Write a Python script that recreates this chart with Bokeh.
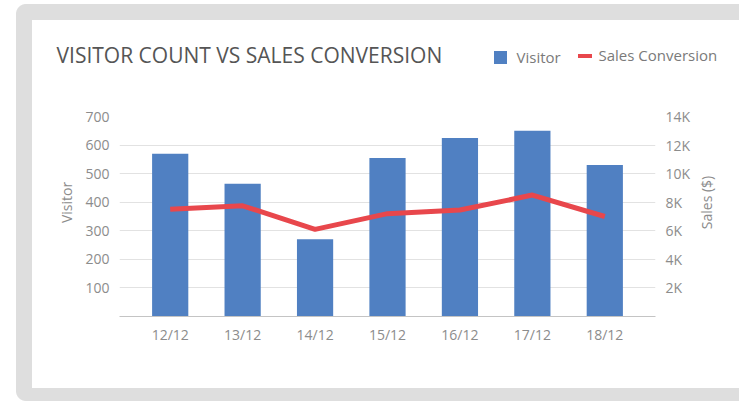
import math
from bokeh.plotting import figure
from bokeh.models import (Range1d, LinearAxis, FixedTicker, Label)
from bokeh.embed import file_html
from bokeh.resources import INLINE

# ---- data ----
dates = ["12/12", "13/12", "14/12", "15/12", "16/12", "17/12", "18/12"]
visitors = [570, 465, 270, 555, 625, 650, 530]
sales = [7500, 7750, 6100, 7200, 7450, 8500, 7000]
visitor_ticks = [100, 200, 300, 400, 500, 600, 700]
sales_ticks = [2000, 4000, 6000, 8000, 10000, 12000, 14000]
sales_tick_labels = ["2K", "4K", "6K", "8K", "10K", "12K", "14K"]

title_text = "VISITOR COUNT VS SALES CONVERSION"
legend_labels = ["Visitor", "Sales Conversion"]
FONT = "Open Sans"
BAR = "#5080c2"
RED = "#e8474c"
GRAY = "#dedede"

idx = list(range(len(dates)))

p = figure(width=739, height=401, output_backend="svg", toolbar_location=None,
           x_range=Range1d(-0.70, 6.70), y_range=Range1d(0, 700),
           min_border_left=119, min_border_right=84, min_border_top=116,
           min_border_bottom=85)
p.outline_line_color = None
p.border_fill_alpha = 0
p.background_fill_color = "white"
p.extra_y_ranges = {"sales": Range1d(0, 14000)}

# card background + legend swatches painted behind the transparent canvas
g = f"linear-gradient({GRAY},{GRAY})"
layers = [
    f"linear-gradient({BAR},{BAR}) 494px 51px / 13px 13px no-repeat",
    f"linear-gradient({RED},{RED}) 578px 54px / 14px 4px no-repeat",
    "linear-gradient(#fff,#fff) 32px 20px / 800px 368px no-repeat",
    f"radial-gradient(circle at 10px 10px, {GRAY} 9.5px, transparent 10.5px) 16px 4px / 20px 20px no-repeat",
    f"radial-gradient(circle at 10px 10px, {GRAY} 9.5px, transparent 10.5px) 16px 381px / 20px 20px no-repeat",
    f"{g} 26px 4px / 800px 397px no-repeat",
    f"{g} 16px 14px / 20px 377px no-repeat",
    "#ffffff",
]
p.styles = {"background": ", ".join(layers)}

p.vbar(x=idx, top=visitors, width=0.5, fill_color=BAR, line_color=None)
p.line(x=idx, y=sales, y_range_name="sales", line_color=RED, line_width=5,
       line_join="round")

# axes
xa = p.xaxis[0]
xa.ticker = FixedTicker(ticks=idx)
xa.major_label_overrides = {i: d for i, d in zip(idx, dates)}
xa.axis_line_color = "#c4c4c4"
xa.major_tick_line_color = None
xa.minor_tick_line_color = None
xa.major_tick_out = 0
xa.major_tick_in = 0
xa.major_label_standoff = 8
xa.major_label_text_font = FONT
xa.major_label_text_font_size = "14px"
xa.major_label_text_color = "#8c8c8c"

ya = p.yaxis[0]
ya.ticker = FixedTicker(ticks=visitor_ticks)
ya.axis_line_color = None
ya.major_tick_line_color = None
ya.minor_tick_line_color = None
ya.major_tick_out = 0
ya.major_tick_in = 0
ya.major_label_standoff = 10
ya.major_label_text_font = FONT
ya.major_label_text_font_size = "14px"
ya.major_label_text_color = "#8c8c8c"

ra = LinearAxis(y_range_name="sales", ticker=FixedTicker(ticks=sales_ticks))
ra.major_label_overrides = {t: l for t, l in zip(sales_ticks, sales_tick_labels)}
ra.axis_line_color = None
ra.major_tick_line_color = None
ra.minor_tick_line_color = None
ra.major_tick_out = 0
ra.major_tick_in = 0
ra.major_label_standoff = 10
ra.major_label_text_font = FONT
ra.major_label_text_font_size = "14px"
ra.major_label_text_color = "#8c8c8c"
p.add_layout(ra, "right")

p.xgrid.grid_line_color = None
p.ygrid.ticker = FixedTicker(ticks=visitor_ticks)
p.ygrid.grid_line_color = "#e2e2e2"


def clabel(x, y, text, size, color, baseline="alphabetic", align="left", angle=0):
    return Label(x=x, y=y, x_units="canvas", y_units="canvas", text=text,
                 text_font=FONT, text_font_size=size, text_color=color,
                 text_baseline=baseline, text_align=align, angle=angle)


# axis titles
p.add_layout(clabel(66, 202, "Visitor", "14px", "#8c8c8c", "middle", "center",
                    math.pi / 2), "left")
p.add_layout(clabel(706, 202, "Sales ($)", "14px", "#8c8c8c", "middle", "center",
                    math.pi / 2), "right")

# title
p.add_layout(clabel(56, 54, title_text, "21px", "#555555"), "above")
# legend texts
p.add_layout(clabel(516, 56, legend_labels[0], "15px", "#7a7a7a"), "above")
p.add_layout(clabel(598, 54, legend_labels[1], "15px", "#7a7a7a"), "above")

open("out.html", "w").write(file_html(p, INLINE))
